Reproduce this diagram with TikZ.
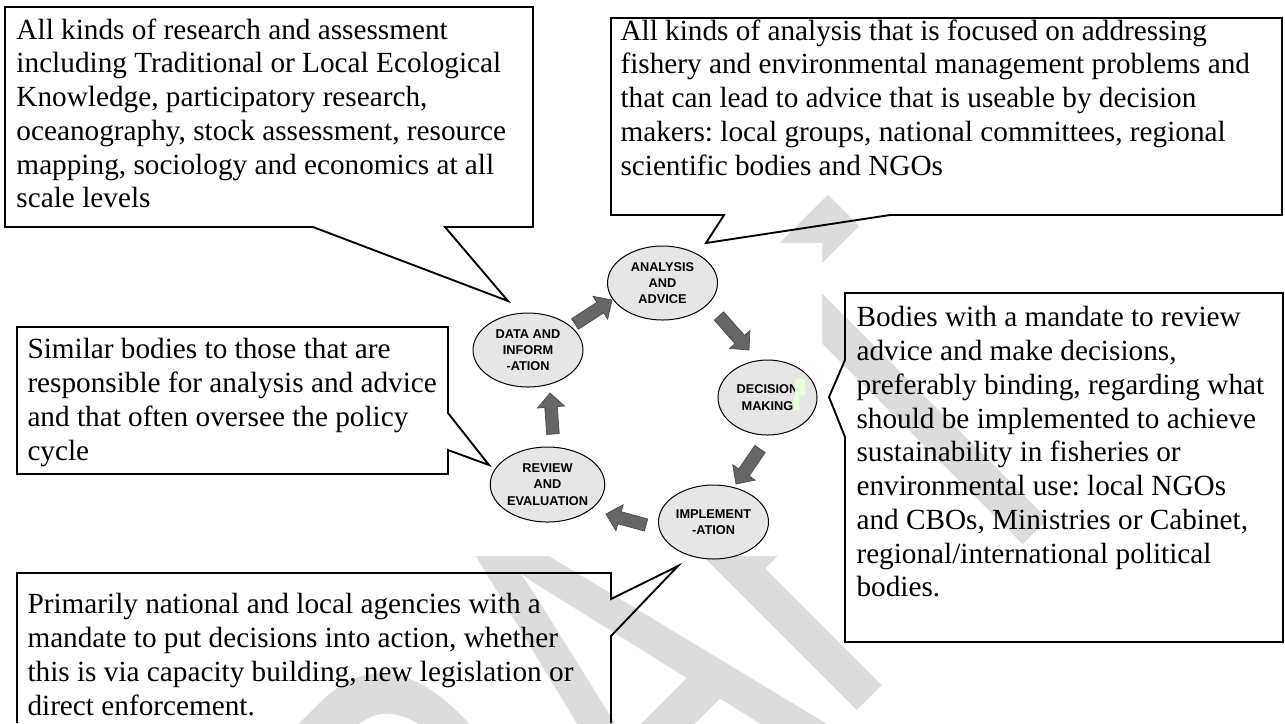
\documentclass[tikz,border=0pt]{standalone}
\usepackage{fontspec}
\setmainfont{Liberation Serif}
\newfontfamily\cyclefont{Liberation Sans}
\newfontfamily\draftfont{Carlito}
\usepackage{tikz}
\usetikzlibrary{%
	shapes.geometric,%
	calc%
}
\definecolor{Bubble}{HTML}{E6E6E6}
\definecolor{Flow}{HTML}{666666}
\definecolor{Mark}{HTML}{DCDCDC}
\definecolor{Marker}{HTML}{E6FFD9}
\frenchspacing

\newcommand\cyclearrow[2]{%
\coordinate (neck) at ($(#2)!5.6pt!(#1)$);
\filldraw [flow] ($(#1)!2.5pt!90:(#2)$) -- ($(neck)!2.5pt!90:(#2)$) -- ($(neck)!5.4pt!90:(#2)$) -- (#2) -- ($(neck)!5.4pt!-90:(#2)$) -- ($(neck)!2.5pt!-90:(#2)$) -- ($(#1)!2.5pt!-90:(#2)$) -- cycle;
}

\begin{document}
\begin{tikzpicture}[x=0.4pt,y=-0.4pt,
	stage/.style={ellipse,draw,line width=0.4pt,fill=Bubble,inner sep=0pt,minimum width=44pt,minimum height=29.6pt,align=center,font=\cyclefont\bfseries\fontsize{5.1}{6.5}\selectfont},
	note/.style={anchor=north west,inner sep=0pt,align=left,font=\fontsize{11.7}{13.5}\selectfont},
	callout/.style={line width=0.75pt,line join=miter},
	flow/.style={fill=Flow,draw=black!70,line width=0.3pt}]
\useasboundingbox (0,0) rectangle (1285,723);

\node (draft) at (1104,464) [anchor=base east,rotate=45,xscale=0.66,inner sep=0pt,text=Mark,font=\draftfont\fontsize{240}{240}\selectfont] {DRAFT};
\fill [white] (466,243) rectangle (822,556) (822,420) rectangle (844,556);

\draw [callout] (5,7) -- (533,7) -- (533,227) -- (445,227) -- (508,301) -- (313,227) -- (5,227) -- cycle;
\node (research) at (16,18) [note] {All kinds of research and assessment\\including Traditional or Local Ecological\\Knowledge, participatory research,\\oceanography, stock assessment, resource\\mapping, sociology and economics at all\\scale levels};

\draw [callout] (611,18) -- (1282,18) -- (1282,215) -- (890,215) -- (706,243) -- (724,215) -- (611,215) -- cycle;
\node (advicetxt) at (620,19) [note] {All kinds of analysis that is focused on addressing\\fishery and environmental management problems and\\that can lead to advice that is useable by decision\\makers: local groups, national committees, regional\\scientific bodies and NGOs};

\draw [callout] (845,293) -- (1283,293) -- (1283,642) -- (845,642) -- (845,437) -- (829,397) -- (845,360) -- cycle;
\node (bodies) at (856,306) [note] {Bodies with a mandate to review\\advice and make decisions,\\preferably binding, regarding what\\should be implemented to achieve\\sustainability in fisheries or\\environmental use: local NGOs\\and CBOs, Ministries or Cabinet,\\regional/international political\\bodies.};

\draw [callout] (17,327) -- (448,327) -- (448,413) -- (489,465) -- (448,450) -- (448,474) -- (17,474) -- cycle;
\node (similar) at (27,338) [note] {Similar bodies to those that are\\responsible for analysis and advice\\and that often oversee the policy\\cycle};

\draw [callout] (17,723) -- (17,573) -- (611,573) -- (611,599) -- (678,566) -- (611,636) -- (611,723);
\node (agencies) at (27,593) [note] {Primarily national and local agencies with a\\mandate to put decisions into action, whether\\this is via capacity building, new legislation or\\direct enforcement.};

\node (analysis) at (662.5,283) [stage] {ANALYSIS\\AND\\ADVICE};
\node (decision) at (767.5,397.5) [stage,minimum width=39.6pt,minimum height=30pt] {DECISION\\MAKING};
\node (implement) at (713.5,522) [stage] {IMPLEMENT\\-ATION};
\node (review) at (547.5,484.5) [stage,minimum height=30pt] {REVIEW\\AND\\EVALUATION};
\node (data) at (528,350) [stage] {DATA AND\\INFORM\\-ATION};
\fill [Marker] (795,379) rectangle (805,395) (794,395) rectangle (799,410);

\coordinate (t1) at (575,324); \coordinate (h1) at (612,300);
\coordinate (t2) at (719,316); \coordinate (h2) at (749,350);
\coordinate (t3) at (760,449); \coordinate (h3) at (736,484);
\coordinate (t4) at (646,525); \coordinate (h4) at (606,514);
\coordinate (t5) at (553,434); \coordinate (h5) at (550,393);
\cyclearrow{t1}{h1}
\cyclearrow{t2}{h2}
\cyclearrow{t3}{h3}
\cyclearrow{t4}{h4}
\cyclearrow{t5}{h5}
\end{tikzpicture}
\end{document}
